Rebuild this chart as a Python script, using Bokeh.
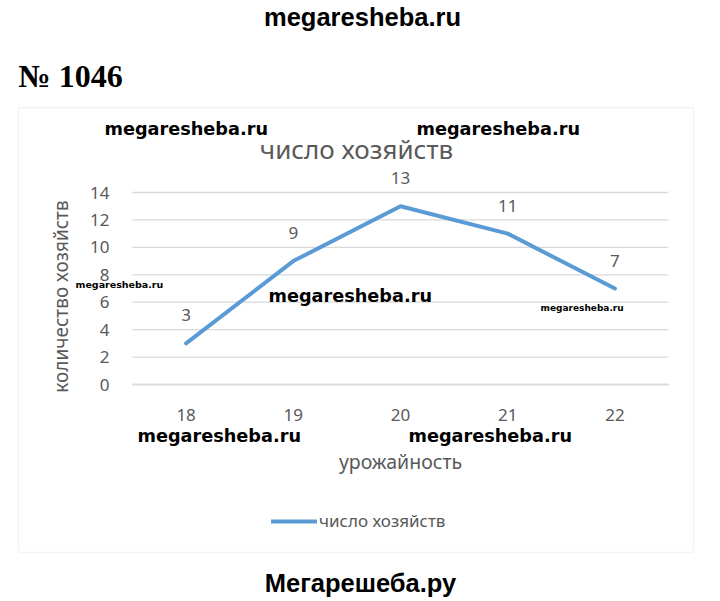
from bokeh.plotting import figure
from bokeh.models import (Label, BoxAnnotation, ColumnDataSource, FixedTicker,
                          Legend, LegendItem, Range1d, LinearAxis)
from bokeh.core.properties import value
from bokeh.embed import file_html
from bokeh.resources import INLINE

# ---- data ----
yields = [18, 19, 20, 21, 22]
households = [3, 9, 13, 11, 7]
y_ticks = [0, 2, 4, 6, 8, 10, 12, 14]
series_name = "число хозяйств"
chart_title = "число хозяйств"
x_title = "урожайность"
y_title = "количество хозяйств"

GRAY = "#595959"
GRID = "#d9d9d9"
BLUE = "#5b9bd5"
FONT = "Noto Sans"

# ---- layout (pixels) ----
W, H = 716, 598
PLOT_L, PLOT_R = 132, 668        # plot area left/right
PLOT_T, PLOT_B = 192, 384        # plot area top/bottom

x_lo, x_hi = yields[0] - 0.5, yields[-1] + 0.5
y_lo, y_hi = y_ticks[0], y_ticks[-1]
kx = (PLOT_R - PLOT_L) / (x_hi - x_lo)
ky = (PLOT_B - PLOT_T) / (y_hi - y_lo)
x_range = Range1d(x_lo - PLOT_L / kx, x_lo + (W - PLOT_L) / kx)
y_range = Range1d(y_lo - (H - PLOT_B) / ky, y_lo + PLOT_B / ky)

src = ColumnDataSource(dict(x=yields, y=households, lab=[str(v) for v in households]))

p = figure(width=W, height=H, x_range=x_range, y_range=y_range,
           x_axis_type=None, y_axis_type=None, title=None,
           output_backend="svg", toolbar_location=None, min_border=0)
p.outline_line_color = None
p.background_fill_color = "white"
p.border_fill_color = "white"

# gridlines across the plot area
p.segment(x0=[x_lo] * len(y_ticks), x1=[x_hi] * len(y_ticks), y0=y_ticks, y1=y_ticks,
          line_color=GRID, line_width=1.3)

# axes
yaxis = LinearAxis(fixed_location=x_lo, ticker=FixedTicker(ticks=y_ticks),
                   bounds=(y_lo - 1.2, y_hi))
yaxis.axis_line_color = None
yaxis.major_tick_line_color = None
yaxis.minor_tick_line_color = None
yaxis.major_label_standoff = 17
yaxis.major_label_text_font = FONT
yaxis.major_label_text_font_size = "17px"
yaxis.major_label_text_color = GRAY
yaxis.axis_label = y_title
yaxis.axis_label_standoff = 13
yaxis.axis_label_text_font = FONT
yaxis.axis_label_text_font_size = "19px"
yaxis.axis_label_text_font_style = "normal"
yaxis.axis_label_text_color = GRAY
p.add_layout(yaxis, "left")

xaxis = LinearAxis(fixed_location=y_lo, ticker=FixedTicker(ticks=yields), bounds=(x_lo, x_hi))
xaxis.axis_line_color = GRID
xaxis.axis_line_width = 1.3
xaxis.major_tick_line_color = None
xaxis.minor_tick_line_color = None
xaxis.major_label_standoff = 18
xaxis.major_label_text_font = FONT
xaxis.major_label_text_font_size = "17px"
xaxis.major_label_text_color = GRAY
xaxis.axis_label = x_title
xaxis.axis_label_standoff = 24
xaxis.axis_label_text_font = FONT
xaxis.axis_label_text_font_size = "19.5px"
xaxis.axis_label_text_font_style = "normal"
xaxis.axis_label_text_color = GRAY
p.add_layout(xaxis, "below")

# series
line_r = p.line("x", "y", source=src, line_color=BLUE, line_width=4,
                line_cap="round", line_join="round")
p.text("x", "y", text="lab", source=src, y_offset=-28,
       text_align="center", text_baseline="middle",
       text_font=value(FONT), text_font_size="17px", text_color=GRAY)

legend = Legend(items=[LegendItem(label=series_name, renderers=[line_r])],
                location=(271, H - 532), orientation="horizontal",
                border_line_color=None, background_fill_alpha=0,
                padding=0, margin=0, spacing=0,
                glyph_width=46, glyph_height=20, label_height=20,
                label_standoff=2, label_text_font=FONT,
                label_text_font_size="17px", label_text_color=GRAY)
p.add_layout(legend)

# chart box
box = BoxAnnotation(left=18, right=693, top=H - 107, bottom=H - 552,
                    left_units="screen", right_units="screen",
                    top_units="screen", bottom_units="screen",
                    fill_alpha=0, line_color=GRID, line_width=1.5)
p.add_layout(box)

def lab(text, X, Y, font, size, align="center", style="bold", color="black"):
    p.add_layout(Label(x=X, y=H - Y, x_units="screen", y_units="screen", text=text,
                       text_align=align, text_baseline="middle",
                       text_font=font, text_font_size=size,
                       text_font_style=style, text_color=color))

# chart title
lab(chart_title, 356, 148, FONT, "26px", style="normal", color=GRAY)

# page texts
lab("megaresheba.ru", 362, 16, "Liberation Sans", "25.5px")
lab("№ 1046", 18, 75, "Liberation Serif", "32px", align="left")
lab("Мегарешеба.ру", 360, 582, "Liberation Sans", "25.5px")

# watermarks
WM = "DejaVu Sans"
lab("megaresheba.ru", 104, 128, WM, "17.7px", align="left")
lab("megaresheba.ru", 416, 128, WM, "17.7px", align="left")
lab("megaresheba.ru", 75, 284, WM, "9.5px", align="left")
lab("megaresheba.ru", 268, 295, WM, "17.7px", align="left")
lab("megaresheba.ru", 540, 307, WM, "9px", align="left")
lab("megaresheba.ru", 137, 435, WM, "17.7px", align="left")
lab("megaresheba.ru", 408, 435, WM, "17.7px", align="left")

open("out.html", "w").write(file_html(p, INLINE))
